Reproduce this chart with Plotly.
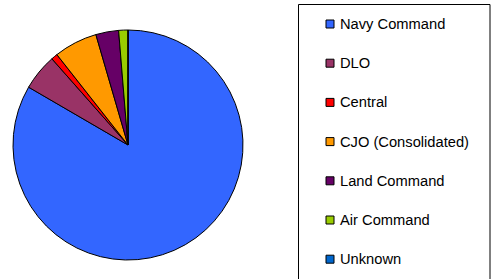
import plotly.graph_objects as go

labels = ["Navy Command", "DLO", "Central", "CJO (Consolidated)", "Land Command", "Air Command", "Unknown"]
values = [83.3, 5.1, 0.9, 6.1, 3.2, 1.3, 0.0]
colors = ["#3366FF", "#993366", "#FF0000", "#FF9900", "#660066", "#99CC00", "#0066CC"]

W, H = 496, 279
fig = go.Figure()
fig.add_trace(go.Pie(
    labels=labels, values=values, sort=False, direction="clockwise", rotation=0,
    marker=dict(colors=colors, line=dict(color="#000000", width=1)),
    textinfo="none", hoverinfo="label+percent", showlegend=False,
    domain=dict(x=[13 / W, 243 / W], y=[(134 - 115) / H, (134 + 115) / H]),
))

shapes = [dict(type="rect", xref="paper", yref="paper",
               x0=298.5 / W, x1=490 / W, y0=-0.05, y1=(H - 4.5) / H,
               line=dict(color="#000000", width=1), fillcolor="rgba(0,0,0,0)")]
annotations = []
y_top, step = 24, 39.2
for i, (lab, col) in enumerate(zip(labels, colors)):
    yc = y_top + i * step
    shapes.append(dict(type="rect", xref="paper", yref="paper",
                       x0=326 / W, x1=334 / W, y0=(H - yc - 4) / H, y1=(H - yc + 4) / H,
                       line=dict(color="#000000", width=1), fillcolor=col))
    annotations.append(dict(text=lab, xref="paper", yref="paper", x=338 / W, y=(H - yc) / H,
                            xanchor="left", yanchor="middle", showarrow=False,
                            font=dict(family="Liberation Sans, Arial", size=14.7, color="#000000")))

fig.update_layout(width=W, height=H, margin=dict(l=0, r=0, t=0, b=0),
                  paper_bgcolor="white", plot_bgcolor="white",
                  shapes=shapes, annotations=annotations)
fig.write_html("out.html", config={"displayModeBar": False})

with open("out.html", "r", encoding="utf-8") as f:
    html = f.read()
html = html.replace("<head>", "<head><style>html,body{margin:0;padding:0;overflow:hidden;}</style>", 1)
with open("out.html", "w", encoding="utf-8") as f:
    f.write(html)
